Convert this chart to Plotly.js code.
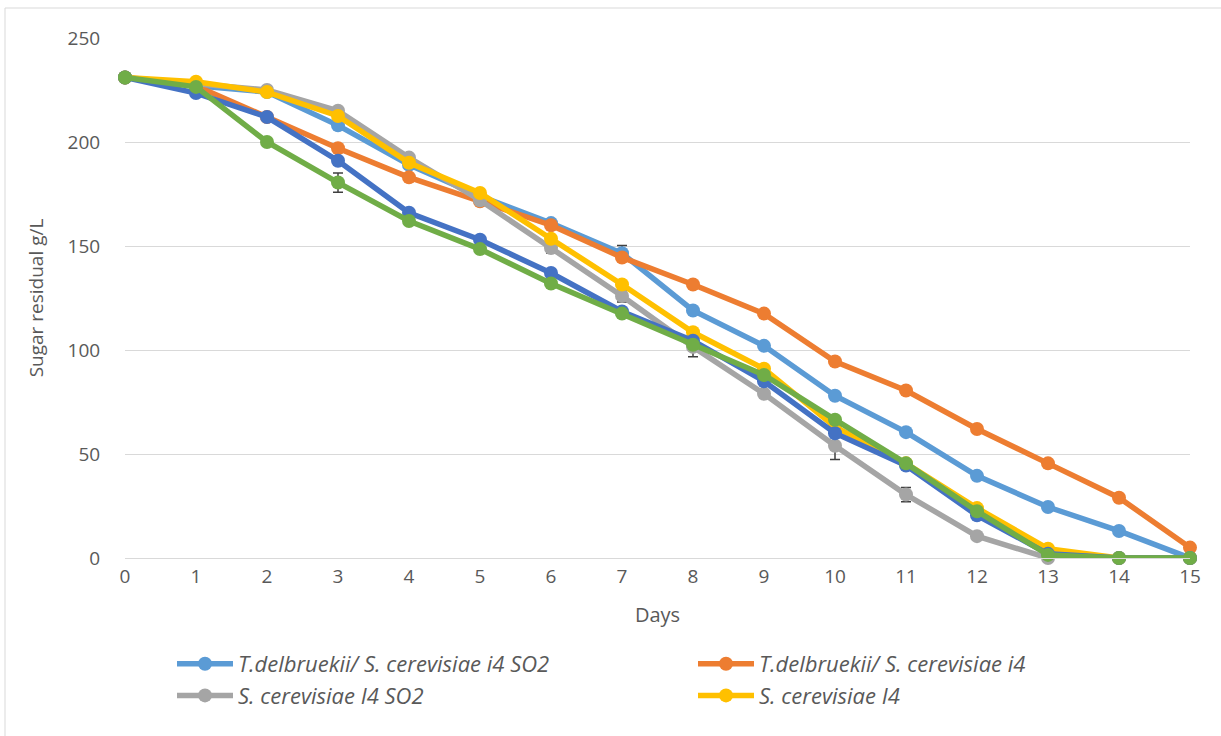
<!DOCTYPE html>
<html>
<head>
<meta charset="utf-8">
<script src="https://cdn.plot.ly/plotly-3.0.1.min.js"></script>
<style>
  html, body { margin: 0; padding: 0; background: #ffffff; }
  #chart { width: 1221px; height: 736px; }
</style>
</head>
<body>
<div id="chart"></div>
<script>
// Residual sugar (g/L) over fermentation days
const days = [0, 1, 2, 3, 4, 5, 6, 7, 8, 9, 10, 11, 12, 13, 14, 15];

const tdelSO2 = [231, 227, 224, 208, 189, 174, 161, 146.5, 119, 102, 78, 60.5, 39.5, 24.5, 13, 0];
const tdel    = [231, 227, 212, 197, 183, 171.5, 160, 144.5, 131.5, 117.5, 94.5, 80.5, 62, 45.5, 29, 5];
const scSO2   = [231, 228, 225, 215, 192.5, 172, 149, 126, 101.5, 79, 54, 30.5, 10.5, 0, 0, 0];
const sc      = [231, 229, 224, 212.5, 190, 175.5, 153.5, 131.5, 108.5, 91, 63, 45.5, 24, 4.5, 0, 0];
const series5 = [231, 223.5, 212, 191, 166, 153, 137, 118.5, 104.5, 85, 60, 44.5, 20.5, 2, 0, 0];
const series6 = [231, 226.5, 200, 180.5, 162, 148.5, 132, 117.5, 102.5, 88, 66.5, 45.5, 22.5, 1.5, 0, 0];

// standard deviations (only where a bar is shown)
const tdelSO2Err = [null, null, null, null, null, null, null, 3.7, null, null, null, null, null, null, null, null];
const scSO2Err   = [null, null, null, null, null, null, 2.4, 2.9, 4.8, null, 6.7, 3.4, null, null, null, null];
const series6Err = [null, null, null, 4.6, null, null, null, null, null, null, null, null, null, null, null, null];

const names = [
  'T.delbruekii/ S. cerevisiae i4 SO2',
  'T.delbruekii/ S. cerevisiae i4',
  'S. cerevisiae I4 SO2',
  'S. cerevisiae I4',
  'S. cerevisiae I4 (b)',
  'S. cerevisiae I4 SO2 (b)'
];
const colors = ['#5B9BD5', '#ED7D31', '#A5A5A5', '#FFC000', '#4472C4', '#70AD47'];

function makeTrace(y, i, err, inLegend) {
  const t = {
    x: days, y: y, name: names[i], type: 'scatter', mode: 'lines+markers',
    line: { color: colors[i], width: 5.5 },
    marker: { color: colors[i], size: 14 },
    cliponaxis: false,
    showlegend: inLegend
  };
  if (err) {
    t.error_y = { type: 'data', array: err, visible: true, color: '#404040', thickness: 1.5, width: 5 };
  }
  return t;
}

const data = [
  makeTrace(tdelSO2, 0, tdelSO2Err, true),
  makeTrace(tdel, 1, null, true),
  makeTrace(scSO2, 2, scSO2Err, true),
  makeTrace(sc, 3, null, true),
  makeTrace(series5, 4, null, false),
  makeTrace(series6, 5, series6Err, false)
];

const font = { family: 'Open Sans, Lato, sans-serif', color: '#595959', size: 19 };

const layout = {
  width: 1221, height: 736,
  margin: { l: 125, r: 31, t: 38, b: 178, autoexpand: false },
  paper_bgcolor: '#ffffff', plot_bgcolor: '#ffffff',
  font: font,
  xaxis: {
    range: [0, 15], tickvals: days, ticktext: days.map(String),
    showgrid: false, zeroline: false,
    showline: true, linecolor: '#D9D9D9', linewidth: 1,
    ticks: 'outside', ticklen: 1, tickcolor: 'rgba(0,0,0,0)',
    tickfont: { size: 19, color: '#595959' },
    title: { text: 'Days', font: { size: 20, color: '#595959' }, standoff: 20 }
  },
  yaxis: {
    range: [0, 250], dtick: 50,
    showgrid: true, gridcolor: '#D9D9D9', gridwidth: 1,
    zeroline: false, showline: false,
    ticks: 'outside', ticklen: 20, tickcolor: 'rgba(0,0,0,0)',
    tickfont: { size: 19, color: '#595959' },
    title: { text: 'Sugar residual g/L', font: { size: 19, color: '#595959' }, standoff: 18 }
  },
  showlegend: true,
  legend: {
    orientation: 'h',
    xref: 'container', yref: 'container',
    x: 172 / 1221, xanchor: 'left',
    y: 1 - 643 / 736, yanchor: 'top',
    entrywidth: 450, entrywidthmode: 'pixels',
    itemwidth: 56,
    font: { size: 22, color: '#595959', style: 'italic' },
    traceorder: 'normal'
  },
  shapes: [{
    type: 'rect', xref: 'paper', yref: 'paper',
    x0: (5 - 125) / 1065, x1: (1230 - 125) / 1065,
    y0: (558 - 745) / 520, y1: (558 - 8) / 520,
    line: { color: '#D9D9D9', width: 1 }, fillcolor: 'rgba(0,0,0,0)', layer: 'below'
  }]
};

Plotly.newPlot('chart', data, layout, { displayModeBar: false, staticPlot: true });
</script>
</body>
</html>
